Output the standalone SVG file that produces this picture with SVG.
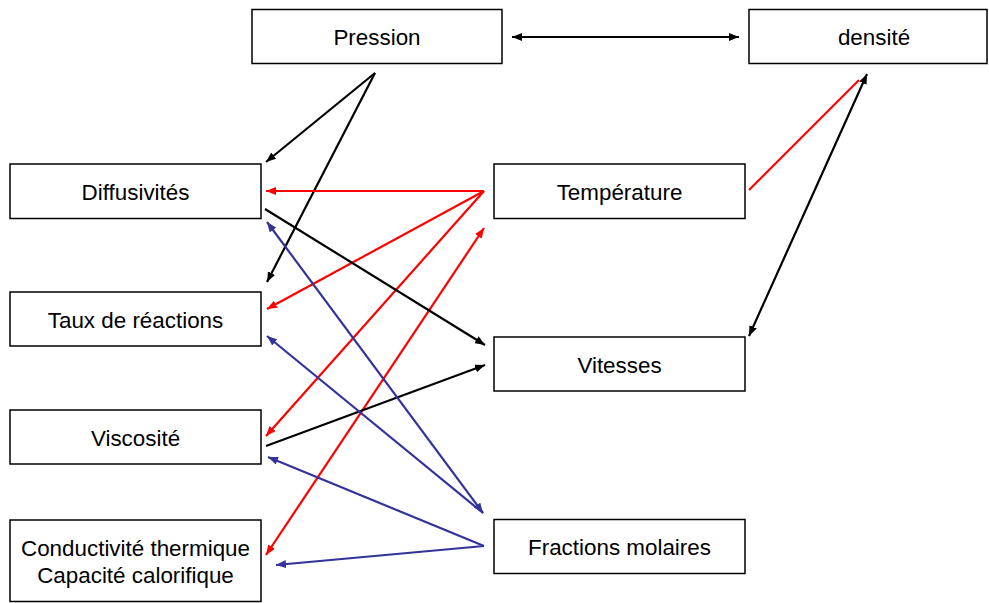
<svg xmlns="http://www.w3.org/2000/svg" width="989" height="603" viewBox="0 0 989 603">
<style>
.box rect{fill:#fff;stroke:#000;stroke-width:1.5}
.box text{font-family:"Liberation Sans",Arial,sans-serif;font-size:22.4px;fill:#000;text-anchor:middle}
.k{stroke:#000;stroke-width:2.2;fill:none}
.r{stroke:#ff0000;stroke-width:2.2;fill:none}
.b{stroke:#333399;stroke-width:2.2;fill:none}
</style>
<defs>
<marker id="ak" viewBox="0 0 10 8" refX="10" refY="4" markerWidth="10" markerHeight="8" markerUnits="userSpaceOnUse" orient="auto-start-reverse"><path d="M0,0 L10,4 L0,8 z" fill="#000"/></marker>
<marker id="ar" viewBox="0 0 10 8" refX="10" refY="4" markerWidth="10" markerHeight="8" markerUnits="userSpaceOnUse" orient="auto-start-reverse"><path d="M0,0 L10,4 L0,8 z" fill="#ff0000"/></marker>
<marker id="ab" viewBox="0 0 10 8" refX="10" refY="4" markerWidth="10" markerHeight="8" markerUnits="userSpaceOnUse" orient="auto-start-reverse"><path d="M0,0 L10,4 L0,8 z" fill="#333399"/></marker>
</defs>
<rect width="989" height="603" fill="#fff"/>
<g id="connectors">
<line class="k" x1="512" y1="37" x2="739" y2="37" marker-start="url(#ak)" marker-end="url(#ak)"/>
<line class="k" x1="375" y1="73" x2="266" y2="162" marker-end="url(#ak)"/>
<line class="k" x1="375" y1="73" x2="267" y2="282" marker-end="url(#ak)"/>
<line class="r" x1="484" y1="191" x2="266" y2="191" marker-end="url(#ar)"/>
<line class="r" x1="484" y1="191" x2="267" y2="309" marker-end="url(#ar)"/>
<line class="r" x1="484" y1="191" x2="266" y2="436" marker-end="url(#ar)"/>
<line class="r" x1="266" y1="555" x2="484" y2="228" marker-start="url(#ar)" marker-end="url(#ar)"/>
<line class="r" x1="749" y1="190" x2="859" y2="80"/>
<line class="k" x1="749" y1="336" x2="867" y2="74" marker-start="url(#ak)" marker-end="url(#ak)"/>
<line class="k" x1="265" y1="209" x2="485" y2="345" marker-end="url(#ak)"/>
<line class="k" x1="266" y1="446" x2="485" y2="365" marker-end="url(#ak)"/>
<line class="b" x1="267" y1="222" x2="483" y2="513" marker-start="url(#ab)" marker-end="url(#ab)"/>
<line class="b" x1="483" y1="513" x2="267" y2="336" marker-end="url(#ab)"/>
<line class="b" x1="484" y1="546" x2="268" y2="457" marker-end="url(#ab)"/>
<line class="b" x1="484" y1="546" x2="276" y2="565" marker-end="url(#ab)"/>
</g>
<g id="pression" class="box"><rect x="252" y="9.5" width="250" height="54"/><text x="377" y="44.5">Pression</text></g>
<g id="densite" class="box"><rect x="749" y="9.5" width="238" height="54"/><text x="874" y="44.5">densité</text></g>
<g id="diffusivites" class="box"><rect x="10" y="164" width="251" height="54.5"/><text x="135.5" y="199.5">Diffusivités</text></g>
<g id="taux" class="box"><rect x="10" y="292" width="251" height="54"/><text x="135.5" y="327.5">Taux de réactions</text></g>
<g id="viscosite" class="box"><rect x="10" y="410" width="251" height="54"/><text x="135.5" y="445.5">Viscosité</text></g>
<g id="conductivite" class="box"><rect x="10" y="520" width="251" height="81.5"/><text x="135.5" y="556">Conductivité thermique</text><text x="135.5" y="582.5">Capacité calorifique</text></g>
<g id="temperature" class="box"><rect x="494" y="164" width="251" height="54.5"/><text x="619.5" y="199.5">Température</text></g>
<g id="vitesses" class="box"><rect x="494" y="337" width="251" height="54"/><text x="619.5" y="372.5">Vitesses</text></g>
<g id="fractions" class="box"><rect x="494" y="519.5" width="251" height="54"/><text x="619.5" y="554.5">Fractions molaires</text></g>
</svg>
